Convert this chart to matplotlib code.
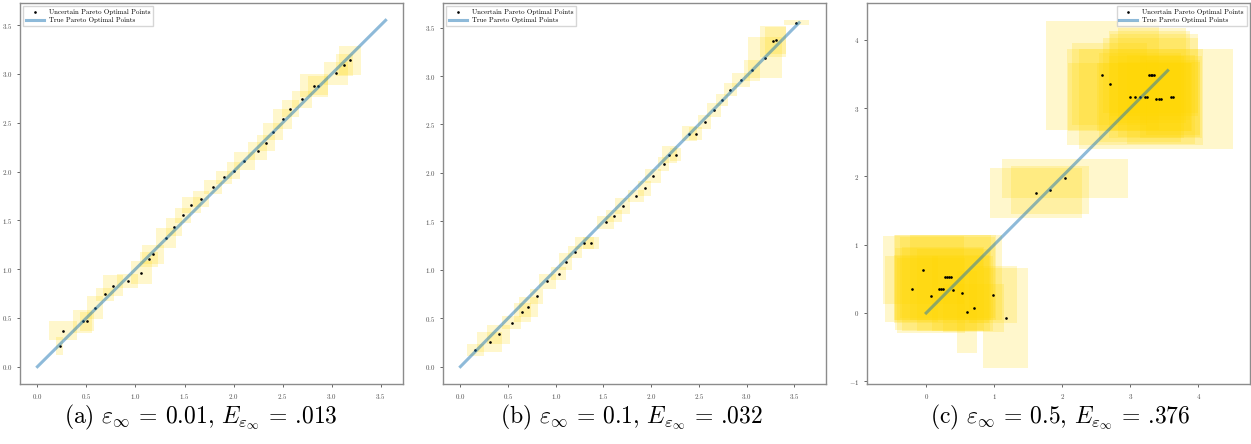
import matplotlib
matplotlib.use('Agg')
import matplotlib.pyplot as plt
from matplotlib.patches import Rectangle

plt.rcParams['font.family'] = 'serif'
plt.rcParams['font.serif'] = ['cmr10']
plt.rcParams['mathtext.fontset'] = 'cm'
plt.rcParams['axes.formatter.use_mathtext'] = True

# true pareto front (straight line)
true_front = [0.0, 3.55]

# panel (a): eps = 0.01
a_x = [0.227, 0.26, 0.46, 0.505, 0.587, 0.69, 0.77, 0.92, 1.06, 1.14, 1.18, 1.31, 1.39, 1.485, 1.57, 1.67,
       1.79, 1.90, 2.00, 2.11, 2.245, 2.33, 2.40, 2.50, 2.58, 2.70, 2.82, 2.86, 3.045, 3.13, 3.19]
a_y = [0.214, 0.37, 0.465, 0.465, 0.605, 0.74, 0.83, 0.88, 0.965, 1.10, 1.15, 1.32, 1.43, 1.55, 1.66, 1.72,
       1.84, 1.94, 2.01, 2.11, 2.21, 2.29, 2.41, 2.54, 2.645, 2.74, 2.88, 2.88, 3.005, 3.09, 3.14]
a_hw = [0.035, 0.14, 0.10, 0.07, 0.085, 0.09, 0.105, 0.105, 0.11, 0.09, 0.11, 0.10, 0.08, 0.08, 0.10, 0.08,
        0.09, 0.08, 0.07, 0.11, 0.10, 0.09, 0.10, 0.10, 0.09, 0.10, 0.145, 0.10, 0.12, 0.09, 0.11]
a_hh = [0.09, 0.095, 0.115, 0.10, 0.115, 0.065, 0.105, 0.07, 0.12, 0.08, 0.10, 0.10, 0.09, 0.08, 0.08, 0.08,
        0.07, 0.07, 0.09, 0.09, 0.09, 0.08, 0.09, 0.10, 0.09, 0.09, 0.115, 0.10, 0.115, 0.11, 0.15]

# panel (b): eps = 0.1
b_x = [0.157, 0.307, 0.40, 0.537, 0.65, 0.71, 0.80, 0.91, 1.03, 1.105, 1.20, 1.30, 1.37, 1.525, 1.61, 1.70,
       1.84, 1.93, 2.02, 2.13, 2.19, 2.255, 2.40, 2.465, 2.56, 2.66, 2.74, 2.83, 2.94, 3.06, 3.19, 3.28,
       3.305, 3.52]
b_y = [0.17, 0.255, 0.335, 0.455, 0.56, 0.615, 0.725, 0.88, 0.96, 1.085, 1.185, 1.275, 1.275, 1.49, 1.555,
       1.66, 1.76, 1.84, 1.97, 2.09, 2.19, 2.19, 2.405, 2.405, 2.525, 2.65, 2.75, 2.86, 2.96, 3.06, 3.19,
       3.36, 3.37, 3.55]
b_hw = [0.09, 0.13, 0.12, 0.10, 0.09, 0.10, 0.07, 0.09, 0.08, 0.07, 0.07, 0.10, 0.08, 0.09, 0.08, 0.08,
        0.08, 0.07, 0.08, 0.06, 0.08, 0.06, 0.08, 0.07, 0.07, 0.07, 0.06, 0.07, 0.095, 0.085, 0.18, 0.135,
        0.11, 0.13]
b_hh = [0.065, 0.10, 0.10, 0.07, 0.10, 0.10, 0.08, 0.08, 0.07, 0.09, 0.06, 0.06, 0.06, 0.07, 0.06, 0.08,
        0.06, 0.08, 0.07, 0.07, 0.09, 0.07, 0.08, 0.07, 0.07, 0.07, 0.06, 0.065, 0.07, 0.11, 0.21, 0.16,
        0.14, 0.025]

# panel (c): eps = 0.5
c_x = [-0.04, -0.21, 0.07, 0.28, 0.31, 0.33, 0.36, 0.19, 0.22, 0.25, 0.40, 0.53, 0.985, 0.60, 0.70, 1.17,
       1.62, 1.82, 2.04,
       2.59, 2.70, 3.28, 3.30, 3.32, 3.35, 2.99, 3.07, 3.14, 3.21, 3.24, 3.38, 3.42, 3.45, 3.60, 3.63]
c_y = [0.63, 0.35, 0.25, 0.52, 0.52, 0.52, 0.52, 0.35, 0.35, 0.35, 0.33, 0.29, 0.27, 0.02, 0.07, -0.07,
       1.76, 1.80, 1.97,
       3.48, 3.35, 3.48, 3.48, 3.48, 3.48, 3.16, 3.16, 3.16, 3.16, 3.16, 3.13, 3.13, 3.13, 3.16, 3.16]
c_hw = [0.60, 0.39, 0.50, 0.75, 0.70, 0.79, 0.60, 0.65, 0.70, 0.60, 0.54, 0.45, 0.35, 0.15, 0.45, 0.33,
        0.675, 0.58, 0.92,
        0.83, 0.55, 0.60, 0.70, 0.50, 0.65, 0.90, 1.00, 0.60, 0.70, 0.55, 1.13, 0.60, 0.50, 0.45, 0.40]
c_hh = [0.50, 0.48, 0.55, 0.62, 0.60, 0.62, 0.62, 0.60, 0.50, 0.62, 0.60, 0.55, 0.42, 0.60, 0.35, 0.73,
        0.37, 0.35, 0.28,
        0.80, 0.60, 0.65, 0.55, 0.70, 0.60, 0.50, 0.70, 0.65, 0.50, 0.60, 0.73, 0.55, 0.65, 0.60, 0.55]

captions = [r'(a) $\varepsilon_\infty$ = 0.01, $E_{\varepsilon_\infty}$ = .013',
            r'(b) $\varepsilon_\infty$ = 0.1, $E_{\varepsilon_\infty}$ = .032',
            r'(c) $\varepsilon_\infty$ = 0.5, $E_{\varepsilon_\infty}$ = .376']


def draw_panel(ax, xs, ys, hws, hhs, loc):
    for x, y, hw, hh in zip(xs, ys, hws, hhs):
        ax.add_patch(Rectangle((x - hw, y - hh), 2 * hw, 2 * hh, facecolor='gold', alpha=0.2, lw=0))
    ax.plot(xs, ys, '.', color='k', markersize=1.8, label='Uncertain Pareto Optimal Points')
    ax.plot(true_front, true_front, color='tab:blue', alpha=0.5, lw=2.2, label='True Pareto Optimal Points')
    ax.legend(loc=loc, fontsize=5, handlelength=2.5, borderpad=0.4, labelspacing=0.3,
              fancybox=False, framealpha=0.8, edgecolor='0.8')
    ax.tick_params(labelsize=5, length=2.5, width=0.6, colors='0.3', pad=3)
    for s in ax.spines.values():
        s.set_color('0.55')
        s.set_linewidth(1.0)


W, H = 1251, 444
fig = plt.figure(figsize=(W / 100, H / 100), dpi=100)
lefts = [20, 443, 867]
axes = [fig.add_axes([l / W, 60 / H, 383 / W, 381 / H]) for l in lefts]

draw_panel(axes[0], a_x, a_y, a_hw, a_hh, 'upper left')
axes[0].set_xlim(-0.1775, 3.7275)
axes[0].set_ylim(-0.1775, 3.7275)

draw_panel(axes[1], b_x, b_y, b_hw, b_hh, 'upper left')
axes[1].set_xlim(-0.1825, 3.8325)
axes[1].set_ylim(-0.179, 3.754)

draw_panel(axes[2], c_x, c_y, c_hw, c_hh, 'upper right')
axes[2].set_xlim(-0.87, 4.76)
axes[2].set_ylim(-1.04, 4.54)
axes[2].set_xticks([0, 1, 2, 3, 4])
axes[2].set_yticks([-1, 0, 1, 2, 3, 4])

cap_x = [201, 631, 1060]
for cx, cap in zip(cap_x, captions):
    fig.text(cx / W, 27 / H, cap, ha='center', va='center', fontsize=17)

fig.savefig('out.png', dpi=100)
